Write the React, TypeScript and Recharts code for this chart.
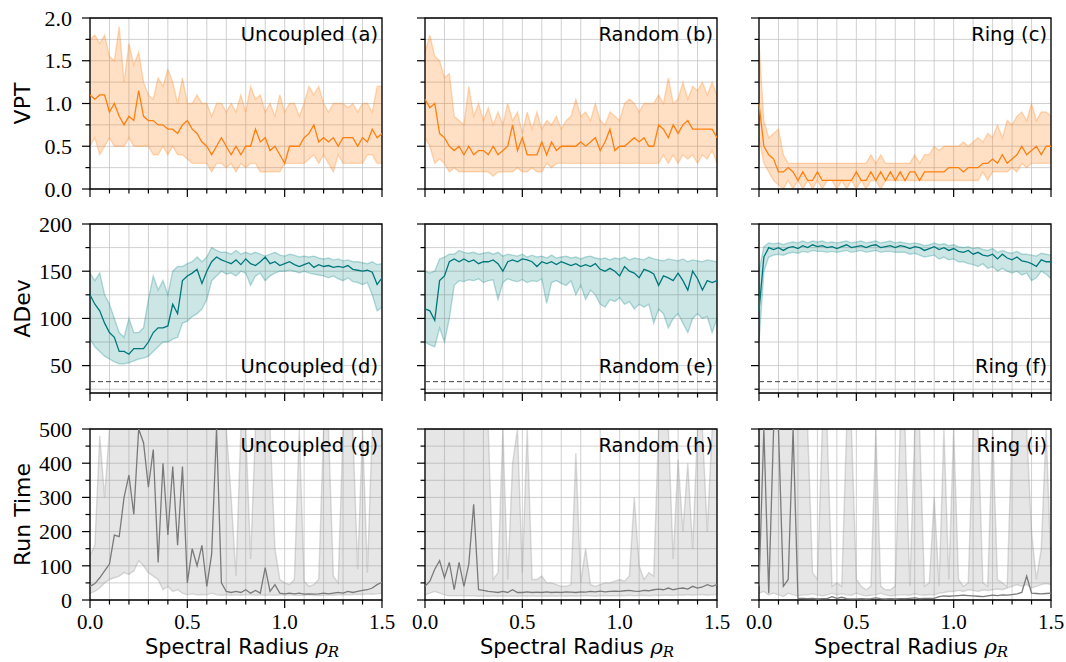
import { ComposedChart, Area, Line, XAxis, YAxis, CartesianGrid, ReferenceLine, ReferenceArea } from 'recharts'

// spectral radius samples (x axis)
const rho = [
  0, 0.025, 0.05, 0.075, 0.1, 0.125, 0.15, 0.175, 0.2, 0.225,
  0.25, 0.275, 0.3, 0.325, 0.35, 0.375, 0.4, 0.425, 0.45, 0.475,
  0.5, 0.525, 0.55, 0.575, 0.6, 0.625, 0.65, 0.675, 0.7, 0.725,
  0.75, 0.775, 0.8, 0.825, 0.85, 0.875, 0.9, 0.925, 0.95, 0.975,
  1, 1.025, 1.05, 1.075, 1.1, 1.125, 1.15, 1.175, 1.2, 1.225,
  1.25, 1.275, 1.3, 1.325, 1.35, 1.375, 1.4, 1.425, 1.45, 1.475,
  1.5,
]

const xTicks = [0, 0.1, 0.2, 0.3, 0.4, 0.5, 0.6, 0.7, 0.8, 0.9, 1, 1.1, 1.2, 1.3, 1.4, 1.5]
const vptTicks = [0, 0.25, 0.5, 0.75, 1, 1.25, 1.5, 1.75, 2]
const adevTicks = [25, 50, 75, 100, 125, 150, 175, 200]
const runTicks = [0, 50, 100, 150, 200, 250, 300, 350, 400, 450, 500]

const colTitles = ['Uncoupled', 'Random', 'Ring']
const panelLetters = [['a', 'b', 'c'], ['d', 'e', 'f'], ['g', 'h', 'i']]
const rowLabels = ['VPT', 'ADev', 'Run Time']
const adevBaseline = 33

// ---- VPT ----
const vptUncoupledMean = [
  1.1, 1.05, 1.1, 1.1, 0.9, 1.0, 0.85, 0.75, 0.85, 0.8,
  1.15, 0.85, 0.8, 0.8, 0.75, 0.75, 0.7, 0.7, 0.65, 0.75,
  0.8, 0.7, 0.65, 0.55, 0.5, 0.4, 0.5, 0.6, 0.5, 0.4,
  0.5, 0.4, 0.5, 0.5, 0.7, 0.55, 0.6, 0.45, 0.5, 0.4,
  0.3, 0.5, 0.5, 0.5, 0.6, 0.65, 0.75, 0.55, 0.6, 0.55,
  0.6, 0.5, 0.6, 0.6, 0.6, 0.5, 0.6, 0.55, 0.7, 0.6,
  0.65,
]
const vptUncoupledHigh = [
  1.75, 1.8, 1.7, 1.8, 1.55, 1.5, 1.9, 1.25, 1.7, 1.45,
  1.6, 1.25, 1.1, 1.05, 1.3, 1.2, 1.4, 1.25, 1.0, 1.3,
  1.0, 1.0, 1.1, 1.0, 1.0, 0.85, 1.0, 1.0, 0.9, 1.0,
  0.9, 1.1, 0.9, 1.2, 1.05, 1.1, 0.9, 1.0, 0.85, 1.1,
  0.9, 1.0, 1.0, 0.85, 1.0, 1.2, 1.1, 1.2, 1.0, 0.9,
  1.0, 1.0, 1.0, 0.95, 1.0, 0.9, 1.0, 1.0, 0.9, 1.2,
  1.2,
]
const vptUncoupledLow = [
  0.5, 0.6, 0.4, 0.5, 0.6, 0.5, 0.5, 0.5, 0.6, 0.5,
  0.5, 0.5, 0.5, 0.4, 0.4, 0.5, 0.4, 0.5, 0.4, 0.4,
  0.35, 0.3, 0.3, 0.3, 0.3, 0.2, 0.3, 0.3, 0.25, 0.3,
  0.2, 0.3, 0.25, 0.3, 0.3, 0.2, 0.2, 0.2, 0.2, 0.2,
  0.3, 0.3, 0.3, 0.3, 0.3, 0.35, 0.4, 0.3, 0.4, 0.3,
  0.2, 0.4, 0.3, 0.3, 0.3, 0.3, 0.3, 0.4, 0.4, 0.3,
  0.3,
]
const vptRandomMean = [
  1.05, 0.95, 1.0, 0.65, 0.6, 0.5, 0.45, 0.5, 0.4, 0.5,
  0.4, 0.45, 0.45, 0.4, 0.5, 0.4, 0.45, 0.5, 0.75, 0.45,
  0.6, 0.4, 0.4, 0.4, 0.55, 0.4, 0.55, 0.45, 0.5, 0.5,
  0.5, 0.5, 0.55, 0.5, 0.55, 0.6, 0.45, 0.55, 0.7, 0.45,
  0.5, 0.5, 0.55, 0.6, 0.55, 0.6, 0.5, 0.5, 0.75, 0.7,
  0.6, 0.75, 0.65, 0.75, 0.8, 0.7, 0.7, 0.7, 0.7, 0.7,
  0.6,
]
const vptRandomHigh = [
  1.6, 1.8, 1.55, 1.5, 1.3, 1.35, 0.85, 0.8, 0.75, 1.2,
  0.85, 1.0, 0.8, 0.95, 0.75, 0.9, 0.75, 1.0, 0.8, 0.9,
  0.65, 0.9, 0.7, 0.9, 0.7, 0.8, 0.75, 0.85, 0.7, 0.8,
  0.85, 1.05, 0.85, 0.9, 0.8, 1.0, 0.8, 0.75, 0.9, 0.85,
  0.8, 1.0, 1.05, 1.0, 0.9, 1.0, 1.0, 1.0, 1.1, 1.0,
  1.3, 1.0, 1.05, 1.25, 1.05, 1.2, 1.15, 1.25, 1.1, 1.25,
  1.1,
]
const vptRandomLow = [
  0.6, 0.5, 0.3, 0.35, 0.3, 0.2, 0.25, 0.2, 0.2, 0.2,
  0.2, 0.2, 0.2, 0.2, 0.15, 0.2, 0.2, 0.2, 0.2, 0.25,
  0.2, 0.2, 0.25, 0.2, 0.2, 0.3, 0.25, 0.3, 0.3, 0.3,
  0.3, 0.3, 0.3, 0.3, 0.3, 0.3, 0.3, 0.3, 0.3, 0.3,
  0.3, 0.3, 0.3, 0.3, 0.3, 0.3, 0.3, 0.3, 0.3, 0.4,
  0.3, 0.4, 0.3, 0.4, 0.35, 0.4, 0.3, 0.4, 0.35, 0.45,
  0.3,
]
const vptRingMean = [
  1.0, 0.5, 0.4, 0.35, 0.2, 0.2, 0.25, 0.2, 0.1, 0.2,
  0.1, 0.1, 0.2, 0.1, 0.1, 0.1, 0.1, 0.1, 0.1, 0.1,
  0.2, 0.1, 0.1, 0.2, 0.1, 0.2, 0.1, 0.2, 0.1, 0.2,
  0.1, 0.2, 0.2, 0.1, 0.2, 0.2, 0.2, 0.2, 0.2, 0.25,
  0.25, 0.25, 0.2, 0.25, 0.25, 0.25, 0.3, 0.3, 0.35, 0.3,
  0.4, 0.3, 0.35, 0.4, 0.5, 0.4, 0.45, 0.5, 0.4, 0.5,
  0.5,
]
const vptRingHigh = [
  1.7, 0.8, 0.6, 0.65, 0.7, 0.4, 0.3, 0.3, 0.3, 0.3,
  0.3, 0.3, 0.3, 0.3, 0.3, 0.3, 0.3, 0.3, 0.3, 0.3,
  0.3, 0.3, 0.3, 0.4, 0.3, 0.4, 0.3, 0.3, 0.3, 0.3,
  0.3, 0.3, 0.4, 0.3, 0.4, 0.4, 0.5, 0.45, 0.5, 0.5,
  0.5, 0.5, 0.55, 0.5, 0.55, 0.6, 0.55, 0.65, 0.6, 0.75,
  0.6, 0.8, 0.75, 0.85, 0.9, 0.8, 1.0, 0.8, 0.9, 0.9,
  0.85,
]
const vptRingLow = [
  0.6, 0.3, 0.2, 0.1, 0.05, 0.0, 0.1, 0.0, 0.1, 0.0,
  0.1, 0.0, 0.1, 0.0, 0.1, 0.1, 0.0, 0.1, 0.0, 0.1,
  0.0, 0.1, 0.0, 0.1, 0.1, 0.0, 0.1, 0.1, 0.1, 0.1,
  0.1, 0.1, 0.1, 0.1, 0.1, 0.1, 0.1, 0.1, 0.1, 0.1,
  0.1, 0.1, 0.1, 0.1, 0.1, 0.1, 0.2, 0.1, 0.2, 0.2,
  0.2, 0.2, 0.25, 0.2, 0.3, 0.25, 0.3, 0.3, 0.3, 0.3,
  0.3,
]

// ---- ADev ----
const adevUncoupledMean = [
  125, 115, 108, 95, 85, 80, 65, 65, 62, 68,
  68, 68, 75, 85, 90, 90, 92, 115, 105, 140,
  145, 148, 152, 137, 150, 160, 165, 162, 160, 158,
  162, 157, 163, 158, 156, 160, 165, 158, 160, 156,
  158, 160, 157, 155, 157, 159, 154, 157, 155, 156,
  154, 155, 154, 156, 152, 151, 150, 151, 149, 136,
  143,
]
const adevUncoupledHigh = [
  148, 140, 148, 125, 115, 100, 85, 80, 100, 85,
  85, 90, 120, 145, 130, 140, 125, 150, 155, 155,
  158, 160, 165, 160, 165, 175, 172, 170, 170, 168,
  172, 168, 170, 168, 170, 168, 166, 168, 170, 167,
  166, 168, 167, 165, 166, 165, 166, 164, 163, 164,
  162, 163, 161, 162, 160, 160, 159, 158, 160, 157,
  158,
]
const adevUncoupledLow = [
  78, 70, 65, 60, 57, 54, 52, 52, 53, 55,
  57, 58, 60, 65, 70, 75, 75, 78, 80, 95,
  97, 102, 105, 110, 120, 140, 145, 150, 147, 148,
  145, 150, 148, 135, 145, 148, 140, 145, 148, 150,
  150, 151, 150, 148, 150, 148, 147, 146, 145, 143,
  145, 142, 140, 143, 139, 138, 136, 138, 125, 108,
  112,
]
const adevRandomMean = [
  110, 108, 98, 140, 145, 160, 163, 160, 163, 160,
  162, 158, 160, 160, 162, 158, 150, 160, 162, 160,
  163, 162, 160, 155, 160, 158, 160, 157, 160, 158,
  156, 158, 155, 157, 155, 158, 152, 150, 153, 150,
  145, 155, 150, 148, 143, 152, 150, 147, 135, 145,
  143, 140, 148, 140, 130, 150, 142, 130, 140, 138,
  140,
]
const adevRandomHigh = [
  150, 148, 150, 163, 165, 168, 168, 172, 170, 169,
  170, 168, 169, 170, 168, 170, 166, 168, 167, 166,
  168, 165, 167, 165, 166, 164, 167, 164, 165, 166,
  164, 165, 163, 165, 166, 164, 163, 164, 162, 164,
  163, 165, 162, 164, 163, 162, 165, 163, 162, 161,
  163, 162, 161, 163, 160, 162, 161, 160, 162, 161,
  160,
]
const adevRandomLow = [
  75, 72, 70, 90, 75, 100, 135, 140, 139, 141,
  140, 142, 138, 140, 141, 120, 138, 142, 140, 139,
  141, 138, 140, 139, 142, 116, 138, 140, 137, 135,
  140, 125, 135, 120, 130, 125, 115, 112, 120, 118,
  122, 115, 118, 110, 115, 112, 115, 95, 110, 105,
  90, 100, 105, 95, 85, 100, 105, 100, 102, 85,
  100,
]
const adevRingMean = [
  108, 165, 175, 173, 175, 172, 175, 176, 174, 177,
  175, 178, 176, 177, 175, 176, 174, 176, 178, 175,
  176, 177, 175, 177, 178, 175, 176, 177, 175, 177,
  176, 174, 176, 175, 172, 174, 176, 173, 175, 172,
  174, 171, 170, 172, 168, 170, 167, 166, 168, 163,
  168, 164, 162, 165, 161, 160, 158, 155, 162, 160,
  160,
]
const adevRingHigh = [
  150, 176, 180, 179, 180, 178, 180, 181, 180, 182,
  180, 182, 181, 182, 180, 181, 180, 181, 182, 180,
  181, 182, 180, 181, 182, 180, 181, 182, 180, 181,
  180, 179, 180, 179, 177, 178, 180, 178, 179, 177,
  178, 176, 175, 176, 174, 175, 173, 172, 174, 170,
  172, 170, 169, 171, 168, 168, 167, 166, 169, 168,
  167,
]
const adevRingLow = [
  75, 150, 165, 167, 168, 167, 169, 170, 169, 171,
  170, 172, 171, 171, 170, 171, 170, 171, 172, 170,
  171, 172, 170, 171, 172, 170, 171, 171, 170, 170,
  170, 168, 169, 167, 165, 166, 167, 163, 165, 162,
  163, 160, 160, 158, 157, 155, 158, 153, 155, 150,
  153, 150, 148, 150, 146, 148, 140, 143, 150, 147,
  142,
]

// ---- Run Time ----
const runUncoupledMean = [
  40, 48, 65, 85, 105, 190, 185, 300, 365, 250,
  500, 460, 330, 440, 110, 400, 190, 390, 160, 390,
  50, 150, 100, 160, 40, 135, 500, 50, 25, 22,
  25, 22, 30, 20, 28, 20, 95, 25, 45, 20,
  18, 20, 18, 20, 17, 18, 17, 18, 20, 18,
  20, 22, 20, 25, 22, 25, 28, 30, 35, 45,
  52,
]
const runUncoupledHigh = [
  130, 160, 480, 300, 500, 500, 500, 500, 500, 500,
  500, 500, 500, 500, 500, 500, 500, 500, 500, 500,
  500, 500, 500, 500, 500, 500, 500, 500, 500, 300,
  70, 500, 500, 120, 500, 500, 500, 500, 150, 60,
  50, 45, 60, 500, 55, 40, 45, 60, 500, 500,
  70, 50, 500, 500, 500, 90, 500, 80, 500, 500,
  500,
]
const runUncoupledLow = [
  20, 25, 35, 50, 60, 65, 70, 80, 75, 85,
  115, 100, 80, 70, 60, 30, 40, 25, 30, 20,
  15, 18, 15, 16, 15, 20, 15, 14, 15, 14,
  15, 14, 15, 16, 14, 15, 14, 15, 14, 15,
  14, 15, 14, 13, 14, 15, 14, 13, 14, 15,
  14, 15, 16, 15, 16, 17, 16, 18, 17, 18,
  20,
]
const runRandomMean = [
  40, 55, 90, 115, 65, 110, 30, 110, 40, 105,
  280, 30, 28, 25, 24, 22, 25, 22, 30, 22,
  22, 24, 22, 23, 22, 24, 22, 23, 22, 24,
  23, 22, 24, 23, 25, 24, 26, 24, 25, 26,
  25, 27, 28, 26, 25, 28, 27, 30, 32, 30,
  35, 30, 33, 35, 32, 40, 35, 38, 45, 40,
  45,
]
const runRandomHigh = [
  500, 500, 500, 500, 500, 500, 500, 500, 500, 500,
  500, 500, 500, 500, 60, 80, 500, 60, 400, 500,
  80, 500, 60, 60, 70, 50, 50, 45, 40, 40,
  45, 430, 50, 150, 45, 40, 45, 50, 50, 55,
  60, 55, 70, 300, 100, 60, 80, 70, 500, 500,
  500, 120, 410, 200, 400, 150, 500, 500, 200, 500,
  500,
]
const runRandomLow = [
  15, 20, 25, 20, 15, 12, 12, 12, 12, 12,
  12, 11, 12, 11, 12, 11, 12, 11, 12, 11,
  12, 11, 12, 11, 12, 11, 12, 11, 12, 11,
  12, 11, 12, 13, 12, 11, 12, 13, 12, 12,
  13, 12, 14, 12, 13, 14, 12, 14, 13, 14,
  14, 13, 15, 14, 16, 14, 15, 16, 14, 15,
  16,
]
const runRingMean = [
  40, 500, 20, 500, 500, 40, 60, 500, 5, 5,
  4, 5, 3, 4, 4, 10, 5, 8, 4, 3,
  3, 4, 3, 4, 6, 4, 3, 4, 3, 4,
  4, 5, 6, 4, 5, 5, 5, 10, 12, 11,
  12, 13, 14, 13, 12, 11, 10, 12, 14, 13,
  15, 14, 16, 18, 22, 70, 20, 19, 18, 19,
  20,
]
const runRingHigh = [
  500, 500, 500, 500, 500, 500, 500, 500, 500, 500,
  500, 80, 60, 500, 500, 40, 50, 40, 500, 500,
  60, 40, 30, 40, 500, 40, 30, 30, 40, 500,
  500, 40, 500, 500, 40, 50, 300, 40, 500, 60,
  500, 60, 40, 50, 500, 500, 50, 40, 500, 60,
  50, 40, 500, 500, 500, 500, 200, 60, 150, 500,
  100,
]
const runRingLow = [
  20, 25, 15, 20, 15, 10, 20, 15, 12, 15,
  15, 18, 15, 12, 15, 20, 15, 18, 15, 14,
  20, 15, 12, 14, 15, 20, 15, 12, 14, 15,
  15, 14, 18, 15, 14, 16, 15, 20, 22, 25,
  25, 28, 25, 30, 28, 25, 30, 28, 30, 32,
  30, 35, 40, 45, 40, 45, 35, 40, 45, 48,
  45,
]

// layout of the 3x3 grid (plot-area pixels)
const colLeft = [90, 425, 759]
const rowTop = [18, 224, 429]
const rowH = [171, 169, 171]
const plotW = 292
const padL = 80
const padT = 18
const padR = 24
const padB = 50

const SANS = "'DejaVu Sans', sans-serif"
const SERIF = "'Liberation Serif', 'DejaVu Serif', serif"

type Metric = {
  domain: [number, number]
  ticks: number[]
  major: number
  fmt: (v: number) => string
  color: string
  line: string
  fillOp: number
  edgeOp: number
  dashed?: number
}

const metrics: Metric[] = [
  { domain: [0, 2], ticks: vptTicks, major: 0.5, fmt: (v) => v.toFixed(1), color: '#ff7f0e', line: '#ff7f0e', fillOp: 0.24, edgeOp: 0.28 },
  { domain: [21, 200], ticks: adevTicks, major: 50, fmt: (v) => String(v), color: '#008080', line: '#00777b', fillOp: 0.2, edgeOp: 0.28, dashed: adevBaseline },
  { domain: [0, 500], ticks: runTicks, major: 100, fmt: (v) => String(v), color: '#8c8c8c', line: '#7a7a7a', fillOp: 0.22, edgeOp: 0.3 },
]

const series = [
  [
    [vptUncoupledMean, vptUncoupledLow, vptUncoupledHigh],
    [vptRandomMean, vptRandomLow, vptRandomHigh],
    [vptRingMean, vptRingLow, vptRingHigh],
  ],
  [
    [adevUncoupledMean, adevUncoupledLow, adevUncoupledHigh],
    [adevRandomMean, adevRandomLow, adevRandomHigh],
    [adevRingMean, adevRingLow, adevRingHigh],
  ],
  [
    [runUncoupledMean, runUncoupledLow, runUncoupledHigh],
    [runRandomMean, runRandomLow, runRandomHigh],
    [runRingMean, runRingLow, runRingHigh],
  ],
]

const isMajor = (v: number, step: number) => Math.abs(v / step - Math.round(v / step)) < 1e-6

function XTick(props: any) {
  const { x, y, payload, show } = props
  const v = payload.value
  const major = isMajor(v, 0.5)
  return (
    <g>
      <line x1={x} x2={x} y1={y} y2={y + (major ? 8 : 4.5)} stroke="#000" strokeWidth={1.2} />
      {show && major && (
        <text x={x} y={y + 29} textAnchor="middle" fontFamily={SERIF} fontSize={21} fill="#000">
          {v.toFixed(1)}
        </text>
      )}
    </g>
  )
}

function YTick(props: any) {
  const { x, y, payload, show, metric } = props
  const v = payload.value
  const major = isMajor(v, metric.major)
  return (
    <g>
      <line x1={x - (major ? 8 : 4.5)} x2={x} y1={y} y2={y} stroke="#000" strokeWidth={1.2} />
      {show && major && (
        <text x={x - 18} y={y} dy="0.35em" textAnchor="end" fontFamily={SERIF} fontSize={22} fill="#000">
          {metric.fmt(v)}
        </text>
      )}
    </g>
  )
}

function Panel({ row, col }: { row: number; col: number }) {
  const metric = metrics[row]
  const [mean, lo, hi] = series[row][col]
  const data = rho.map((x, i) => ({ x, mean: mean[i], band: [lo[i], hi[i]] }))
  const h = rowH[row]
  return (
    <div style={{ position: 'absolute', left: colLeft[col] - padL, top: rowTop[row] - padT }}>
      <ComposedChart
        width={padL + plotW + padR}
        height={padT + h + padB}
        data={data}
        margin={{ top: padT, right: padR, bottom: 0, left: 0 }}
      >
        <CartesianGrid stroke="#c4c4c4" strokeWidth={0.8} />
        <XAxis
          type="number"
          dataKey="x"
          domain={[0, 1.5]}
          ticks={xTicks}
          interval={0}
          height={padB}
          tickSize={0}
          tickMargin={0}
          axisLine={false}
          tickLine={false}
          tick={(p: any) => <XTick {...p} show={row === 2} />}
        />
        <YAxis
          type="number"
          domain={metric.domain}
          ticks={metric.ticks}
          interval={0}
          allowDataOverflow
          width={padL}
          tickSize={0}
          tickMargin={0}
          axisLine={false}
          tickLine={false}
          tick={(p: any) => <YTick {...p} show={col === 0} metric={metric} />}
        />
        <Area
          dataKey="band"
          type="linear"
          stroke={metric.color}
          strokeOpacity={metric.edgeOp}
          strokeWidth={1.4}
          fill={metric.color}
          fillOpacity={metric.fillOp}
          dot={false}
          activeDot={false}
          isAnimationActive={false}
        />
        <Line
          dataKey="mean"
          type="linear"
          stroke={metric.line}
          strokeWidth={1.3}
          dot={false}
          activeDot={false}
          isAnimationActive={false}
        />
        {metric.dashed != null && (
          <ReferenceLine y={metric.dashed} stroke="#444" strokeWidth={1} strokeDasharray="5 3" />
        )}
        <ReferenceArea
          x1={0}
          x2={1.5}
          y1={metric.domain[0]}
          y2={metric.domain[1]}
          fill="none"
          stroke="#000"
          strokeWidth={1.3}
        />
      </ComposedChart>
    </div>
  )
}

export default function App() {
  const titleBaseline = [rowTop[0] + 23, rowTop[1] + rowH[1] - 20, rowTop[2] + 23]
  return (
    <div style={{ position: 'absolute', left: 0, top: 0, width: 1066, height: 662, background: '#fff', overflow: 'hidden' }}>
      {[0, 1, 2].map((r) => [0, 1, 2].map((c) => <Panel key={`${r}-${c}`} row={r} col={c} />))}
      <svg width={1066} height={662} style={{ position: 'absolute', left: 0, top: 0, pointerEvents: 'none' }}>
        {rowLabels.map((lab, r) => (
          <text
            key={lab}
            transform={`translate(22, ${rowTop[r] + rowH[r] / 2}) rotate(-90)`}
            textAnchor="middle"
            dy="0.35em"
            fontFamily={SANS}
            fontSize={22}
            fill="#000"
          >
            {lab}
          </text>
        ))}
        {[0, 1, 2].map((r) =>
          [0, 1, 2].map((c) => (
            <text
              key={`t-${r}-${c}`}
              x={colLeft[c] + plotW - 4}
              y={titleBaseline[r]}
              textAnchor="end"
              fontFamily={SANS}
              fontSize={19.5}
              fill="#000"
            >
              {`${colTitles[c]} (${panelLetters[r][c]})`}
            </text>
          ))
        )}
        {[0, 1, 2].map((c) => (
          <text key={`xl-${c}`} x={colLeft[c] + plotW / 2 + 6} y={654} textAnchor="middle" fontFamily={SANS} fontSize={21} fill="#000">
            Spectral Radius{' '}
            <tspan fontFamily="'DejaVu Serif', serif" fontStyle="italic">ρ</tspan>
            <tspan fontFamily="'DejaVu Serif', serif" fontStyle="italic" fontSize={15} dy={3}>R</tspan>
          </text>
        ))}
      </svg>
    </div>
  )
}
